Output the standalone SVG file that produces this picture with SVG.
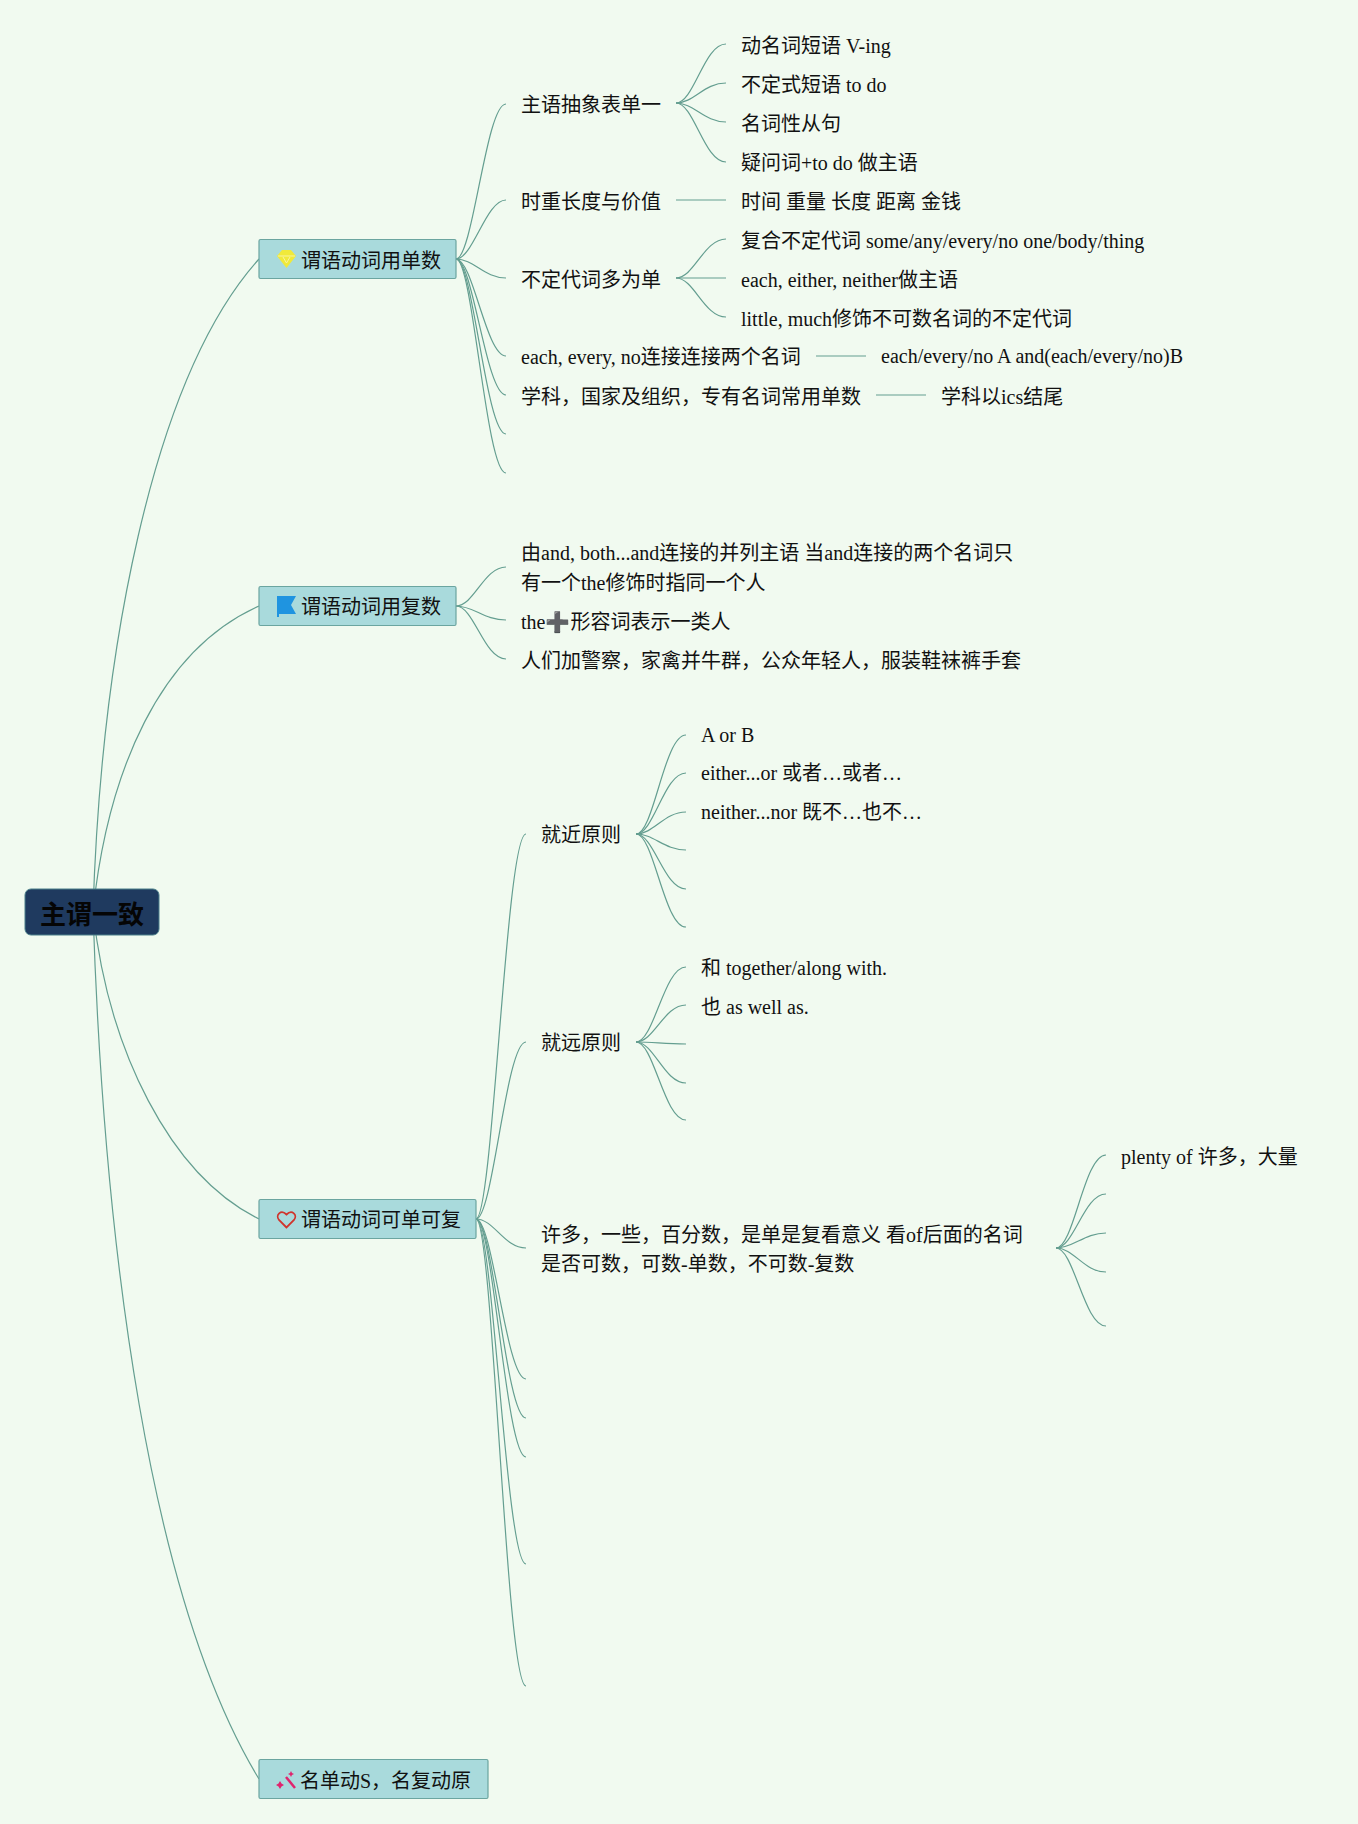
<svg xmlns="http://www.w3.org/2000/svg" width="1358" height="1824" viewBox="0 0 1358 1824">
<style>
text{font-family:"Liberation Serif","Noto Sans CJK SC",serif;font-size:20px;fill:#111}
.root{font-family:"Noto Sans CJK SC",sans-serif;font-size:26px;font-weight:700;fill:#050505;text-anchor:middle}
.b{fill:#a9dadc;stroke:#6ba5a0;stroke-width:1.2}
#connectors path{fill:none;stroke:#649e90;stroke-width:1.2}
</style>
<rect width="1358" height="1824" fill="#f1faf0"/>
<g id="connectors">
<path d="M93 911C101 660 150 380 259 259"/>
<path d="M93 911C108 770 160 650 259 606"/>
<path d="M93 911C108 1050 170 1175 259 1219"/>
<path d="M93 911C104 1250 150 1600 259 1779"/>
<path d="M456 259C473 259 486 104 506 104"/>
<path d="M456 259C473 259 486 200 506 200"/>
<path d="M456 259C474 259 484 278 506 278"/>
<path d="M456 259C473 259 486 356 506 356"/>
<path d="M456 259C473 259 486 395 506 395"/>
<path d="M456 259C473 259 486 434 506 434"/>
<path d="M456 259C473 259 486 473 506 473"/>
<path d="M676 103C694 103 704 44 726 44"/>
<path d="M676 103C694 103 704 83 726 83"/>
<path d="M676 103C694 103 704 122 726 122"/>
<path d="M676 103C694 103 704 162 726 162"/>
<path d="M676 200H726"/>
<path d="M676 278C694 278 704 239 726 239"/>
<path d="M676 278H726"/>
<path d="M676 278C694 278 704 317 726 317"/>
<path d="M816 356H866"/>
<path d="M876 395H926"/>
<path d="M456 606C474 606 484 567 506 567"/>
<path d="M456 606C474 606 484 620 506 620"/>
<path d="M456 606C474 606 484 659 506 659"/>
<path d="M476 1219C493 1219 506 834 526 834"/>
<path d="M476 1219C493 1219 506 1042 526 1042"/>
<path d="M476 1219C494 1219 504 1248 526 1248"/>
<path d="M476 1219C493 1219 506 1379 526 1379"/>
<path d="M476 1219C493 1219 506 1418 526 1418"/>
<path d="M476 1219C493 1219 506 1457 526 1457"/>
<path d="M476 1219C493 1219 506 1564 526 1564"/>
<path d="M476 1219C493 1219 506 1686 526 1686"/>
<path d="M636 834C654 834 664 735 686 735"/>
<path d="M636 834C654 834 664 773 686 773"/>
<path d="M636 834C654 834 664 812 686 812"/>
<path d="M636 834C654 834 664 850 686 850"/>
<path d="M636 834C654 834 664 889 686 889"/>
<path d="M636 834C654 834 664 927 686 927"/>
<path d="M636 1042C654 1042 664 967 686 967"/>
<path d="M636 1042C654 1042 664 1005 686 1005"/>
<path d="M636 1042C654 1042 664 1044 686 1044"/>
<path d="M636 1042C654 1042 664 1083 686 1083"/>
<path d="M636 1042C654 1042 664 1120 686 1120"/>
<path d="M1056 1248C1074 1248 1084 1155 1106 1155"/>
<path d="M1056 1248C1074 1248 1084 1194 1106 1194"/>
<path d="M1056 1248C1074 1248 1084 1233 1106 1233"/>
<path d="M1056 1248C1074 1248 1084 1272 1106 1272"/>
<path d="M1056 1248C1074 1248 1084 1326 1106 1326"/>
</g>
<g id="root"><rect x="25" y="889" width="134" height="46" rx="6" fill="#1f3a5f" stroke="#4a7f8a"/><text class="root" x="92" y="924">主谓一致</text></g>
<g id="b1"><rect class="b" x="259" y="239.500" width="197" height="39" rx="1.500"/>
<path d="M282 250H291L296 256L286.500 268L277 256Z" fill="#f0e93a"/><path d="M278 256H295M283 257L286.500 263L290 257" fill="none" stroke="#f8f4a0" stroke-width="1"/><text x="301" y="268">谓语动词用单数</text></g>
<g id="b2"><rect class="b" x="259" y="586.500" width="197" height="39" rx="1.500"/>
<path d="M277 596H296L291 605L296 614H279V617H277Z" fill="#1f94e0"/><text x="301" y="614">谓语动词用复数</text></g>
<g id="b3"><rect class="b" x="259" y="1199.500" width="217" height="39" rx="1.500"/>
<path d="M286.500 1227.500L279 1220C275 1215 281 1209 286.500 1214.500C292 1209 298 1215 294 1220Z" fill="none" stroke="#d0342c" stroke-width="1.800"/><text x="301" y="1227">谓语动词可单可复</text></g>
<g id="b4"><rect class="b" x="259" y="1759.500" width="229" height="39" rx="1.500"/>
<path d="M286 1777L295 1788" stroke="#e0246e" stroke-width="2.500" fill="none"/><path d="M280 1781l1.500 2.500 2.500 1.500-2.500 1.500-1.500 2.500-1.500-2.500-2.500-1.500 2.500-1.500ZM291 1771l1 2 2 1-2 1-1 2-1-2-2-1 2-1Z" fill="#e0246e"/><text x="300" y="1788">名单动S，名复动原</text></g>
<g id="n1"><text x="521" y="112">主语抽象表单一</text></g>
<g id="n2"><text x="521" y="209">时重长度与价值</text></g>
<g id="n3"><text x="521" y="287">不定代词多为单</text></g>
<g id="n4"><text x="521" y="364">each, every, no连接连接两个名词</text></g>
<g id="n5"><text x="521" y="404">学科，国家及组织，专有名词常用单数</text></g>
<g id="n6"><text x="741" y="53">动名词短语 V-ing</text></g>
<g id="n7"><text x="741" y="92">不定式短语 to do</text></g>
<g id="n8"><text x="741" y="131">名词性从句</text></g>
<g id="n9"><text x="741" y="170">疑问词+to do 做主语</text></g>
<g id="n10"><text x="741" y="209">时间 重量 长度 距离 金钱</text></g>
<g id="n11"><text x="741" y="248">复合不定代词 some/any/every/no one/body/thing</text></g>
<g id="n12"><text x="741" y="287">each, either, neither做主语</text></g>
<g id="n13"><text x="741" y="326">little, much修饰不可数名词的不定代词</text></g>
<g id="n14"><text x="881" y="363">each/every/no A and(each/every/no)B</text></g>
<g id="n15"><text x="941" y="404">学科以ics结尾</text></g>
<g id="n16"><text x="521" y="560">由and, both...and连接的并列主语 当and连接的两个名词只</text><text x="521" y="590">有一个the修饰时指同一个人</text></g>
<g id="n17"><text x="521" y="629">the<tspan font-family="DejaVu Sans" fill="#555">➕</tspan>形容词表示一类人</text></g>
<g id="n18"><text x="521" y="668">人们加警察，家禽并牛群，公众年轻人，服装鞋袜裤手套</text></g>
<g id="n19"><text x="541" y="842">就近原则</text></g>
<g id="n20"><text x="541" y="1050">就远原则</text></g>
<g id="n21"><text x="541" y="1242">许多，一些，百分数，是单是复看意义 看of后面的名词</text><text x="541" y="1271">是否可数，可数-单数，不可数-复数</text></g>
<g id="n22"><text x="701" y="742">A or B</text></g>
<g id="n23"><text x="701" y="780">either...or 或者…或者…</text></g>
<g id="n24"><text x="701" y="819">neither...nor 既不…也不…</text></g>
<g id="n25"><text x="701" y="975">和 together/along with.</text></g>
<g id="n26"><text x="701" y="1014">也 as well as.</text></g>
<g id="n27"><text x="1121" y="1164">plenty of 许多，大量</text></g>
</svg>
